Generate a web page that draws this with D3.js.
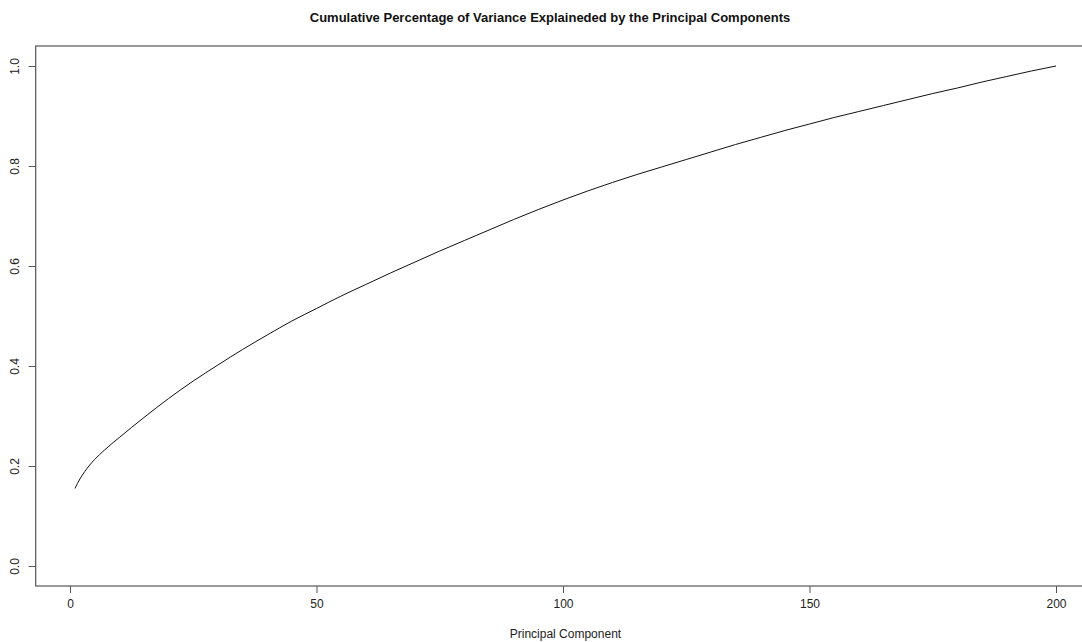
<!DOCTYPE html>
<html>
<head>
<meta charset="utf-8">
<script src="https://cdn.jsdelivr.net/npm/d3@7"></script>
<style>
  body { margin: 0; background: #fff; }
  text { font-family: "Liberation Sans", Arial, sans-serif; }
</style>
</head>
<body>
<svg id="chart"></svg>
<script>
// cumulative variance
let pcs    = [1, 2, 3, 4, 5, 7, 10, 15, 20, 25, 30, 35, 40, 45, 50, 55, 60, 65, 70, 75,
              80, 85, 90, 95, 100, 105, 110, 115, 120, 125, 130, 135, 140, 145, 150,
              155, 160, 165, 170, 175, 180, 185, 190, 195, 200];
let cumVar = [0.155, 0.174, 0.189, 0.202, 0.213, 0.232, 0.257, 0.297, 0.335, 0.370, 0.402,
              0.433, 0.462, 0.490, 0.515, 0.540, 0.563, 0.586, 0.608, 0.630,
              0.651, 0.672, 0.693, 0.713, 0.732, 0.750, 0.767, 0.783, 0.798, 0.813,
              0.828, 0.843, 0.857, 0.871, 0.884, 0.897, 0.909, 0.921, 0.933, 0.945,
              0.956, 0.968, 0.979, 0.990, 1.0];
let xTicks = [0, 50, 100, 150, 200];
let yTicks = [0, 0.2, 0.4, 0.6, 0.8, 1.0];

let svgWidth = 1082, svgHeight = 642;

let svg = d3.select("#chart")
    .attr("width", svgWidth)
    .attr("height", svgHeight);

// R style: 4% padding round the data range
let xScale = d3.scaleLinear().domain([0, 200]).range([70, 1056]);
let yScale = d3.scaleLinear().domain([0, 1]).range([566, 66]);

let boxLeft = xScale(1 - 0.04 * 199), boxRight = xScale(200 + 0.04 * 199);
let boxTop = yScale(1.04), boxBottom = yScale(-0.04);

// plot box (right side runs off the canvas)
svg.append("rect")
    .attr("x", boxLeft)
    .attr("y", boxTop)
    .attr("width", boxRight - boxLeft)
    .attr("height", boxBottom - boxTop)
    .attr("fill", "none")
    .attr("stroke", "#555")
    .attr("stroke-width", 1.2);

let xAxis = d3.axisBottom(xScale)
    .tickValues(xTicks)
    .tickSize(7)
    .tickPadding(6)
    .tickFormat(d3.format("d"));

let gx = svg.append("g")
    .attr("transform", "translate(0," + boxBottom + ")")
    .call(xAxis);
gx.select(".domain").remove();
gx.selectAll("line").attr("stroke", "#555");
gx.selectAll("text").attr("font-size", 12).attr("fill", "#222");

let yAxis = d3.axisLeft(yScale)
    .tickValues(yTicks)
    .tickSize(7)
    .tickFormat(d3.format(".1f"));

let gy = svg.append("g")
    .attr("transform", "translate(" + boxLeft + ",0)")
    .call(yAxis);
gy.select(".domain").remove();
gy.selectAll("line").attr("stroke", "#555");
// labels parallel to the axis, like R's default
// (tick groups are already moved to their y, so only shift left here)
gy.selectAll("text")
    .attr("font-size", 12)
    .attr("fill", "#222")
    .attr("x", null)
    .attr("dy", "0.35em")
    .attr("text-anchor", "middle")
    .attr("transform", "translate(-21,0) rotate(-90)");

let line = d3.line()
    .x(function(d, i) { return xScale(pcs[i]); })
    .y(function(d) { return yScale(d); })
    .curve(d3.curveMonotoneX);

svg.append("path")
    .datum(cumVar)
    .attr("d", line)
    .attr("fill", "none")
    .attr("stroke", "#111")
    .attr("stroke-width", 1);

svg.append("text")
    .attr("x", 550)
    .attr("y", 22)
    .attr("text-anchor", "middle")
    .attr("font-size", 13)
    .attr("font-weight", "bold")
    .attr("fill", "#111")
    .text("Cumulative Percentage of Variance Explaineded by the Principal Components");

svg.append("text")
    .attr("x", (boxLeft + boxRight) / 2)
    .attr("y", 638)
    .attr("text-anchor", "middle")
    .attr("font-size", 12)
    .attr("fill", "#222")
    .text("Principal Component");
</script>
</body>
</html>
